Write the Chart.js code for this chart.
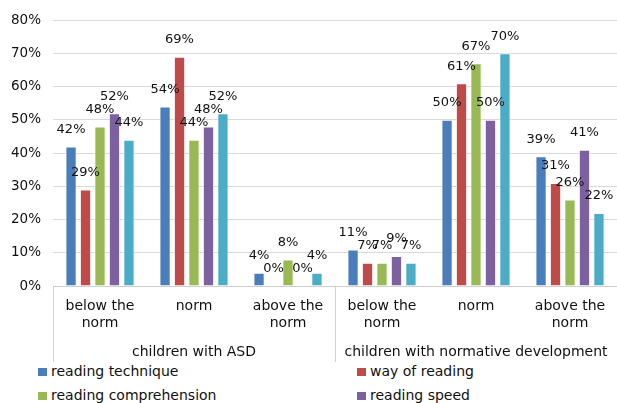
<!DOCTYPE html>
<html>
<head>
<meta charset="utf-8">
<script src="https://cdn.jsdelivr.net/npm/chart.js@4.4.0/dist/chart.umd.min.js"></script>
<style>
  html,body{margin:0;padding:0;background:#fff;width:617px;height:403px;overflow:hidden;font-family:"DejaVu Sans",sans-serif;}
  #wrap{position:relative;width:617px;height:362px;}
  #legend{position:absolute;left:0;top:363px;width:617px;height:40px;font-size:14px;color:#111;}
  .li{position:absolute;display:flex;align-items:center;white-space:nowrap;line-height:17px;}
  .sw{width:9px;height:8px;margin-right:4px;}
</style>
</head>
<body>
<div id="wrap"><canvas id="c" width="617" height="362"></canvas></div>
<div id="legend"></div>
<script>
const categories = [["below the","norm"],"norm",["above the","norm"],["below the","norm"],"norm",["above the","norm"]];
const groups = ["children with ASD","children with normative development"];
const seriesNames = ["reading technique","way of reading","reading comprehension","reading speed","total"];
const readingTechnique    = [42, 54, 4, 11, 50, 39];
const wayOfReading        = [29, 69, 0, 7, 61, 31];
const readingComprehension= [48, 44, 8, 7, 67, 26];
const readingSpeed        = [52, 48, 0, 9, 50, 41];
const fifthSeries         = [44, 52, 4, 7, 70, 22];
const yTicks = [0,10,20,30,40,50,60,70,80];
const colors = ["#4a7ebb","#be4b48","#98b954","#7d60a0","#4bacc6"];
const legendShown = [true,true,true,true,false];

const FONT = "DejaVu Sans";
const allSeries = [readingTechnique, wayOfReading, readingComprehension, readingSpeed, fifthSeries];

const labelPlugin = {
  id:'valueLabels',
  afterDatasetsDraw(chart){
    const ctx = chart.ctx;
    ctx.save();
    ctx.font = "13px " + FONT;
    ctx.fillStyle = "#111";
    ctx.textAlign = "center";
    ctx.textBaseline = "middle";
    chart.data.datasets.forEach((ds,i)=>{
      const meta = chart.getDatasetMeta(i);
      meta.data.forEach((el,j)=>{
        ctx.fillText(ds.data[j] + "%", el.x, el.y - 17);
      });
    });
    ctx.restore();
  }
};

const sepPlugin = {
  id:'separators',
  afterDraw(chart){
    const ctx = chart.ctx;
    const x = chart.scales.x;
    const ca = chart.chartArea;
    const mid = (x.getPixelForValue(2) + x.getPixelForValue(3)) / 2;
    ctx.save();
    ctx.strokeStyle = "#d0d0d0";
    ctx.lineWidth = 1;
    [ca.left, mid].forEach(px=>{
      const p = Math.round(px) + 0.5;
      ctx.beginPath();
      ctx.moveTo(p, ca.bottom);
      ctx.lineTo(p, chart.height);
      ctx.stroke();
    });
    ctx.restore();
  }
};

const chart = new Chart(document.getElementById('c'), {
  type:'bar',
  data:{
    labels: categories,
    datasets: allSeries.map((d,i)=>({
      label: seriesNames[i],
      data: d,
      backgroundColor: colors[i],
      borderColor: "rgba(255,255,255,0.6)",
      borderWidth: 1,
      categoryPercentage: 0.77,
      barPercentage: 0.78
    }))
  },
  options:{
    responsive:false,
    animation:false,
    layout:{padding:{top:12,right:0,left:0,bottom:0}},
    plugins:{legend:{display:false},tooltip:{enabled:false}},
    scales:{
      x:{
        type:'category',
        grid:{display:false},
        border:{display:true,color:"#d0d0d0"},
        ticks:{font:{family:FONT,size:14},color:"#111",padding:4,maxRotation:0,autoSkip:false},
        afterFit(s){ s.height = 50; }
      },
      x2:{
        type:'category',
        labels: groups,
        position:'bottom',
        grid:{display:false},
        border:{display:false},
        ticks:{font:{family:FONT,size:14},color:"#111",padding:0,maxRotation:0,autoSkip:false},
        afterFit(s){ s.height = 26; }
      },
      y:{
        min:0,max:80,
        afterBuildTicks(s){ s.ticks = yTicks.map(v=>({value:v})); },
        grid:{color:"#d9d9d9",drawTicks:false},
        border:{display:false},
        ticks:{font:{family:FONT,size:13.5},color:"#111",padding:12,callback:v=>v+"%"},
        afterFit(s){ s.width = 53; }
      }
    }
  },
  plugins:[labelPlugin, sepPlugin]
});

// HTML legend in two columns
const leg = document.getElementById('legend');
let k = 0;
chart.data.datasets.forEach((ds,i)=>{
  if(!legendShown[i]) return;
  const row = Math.floor(k/2), col = k%2;
  const div = document.createElement('div');
  div.className = 'li';
  div.style.left = (col===0 ? 38 : 357) + 'px';
  div.style.top = (row*24) + 'px';
  div.innerHTML = '<span class="sw" style="background:'+ds.backgroundColor+'"></span><span>'+ds.label+'</span>';
  leg.appendChild(div);
  k++;
});
</script>
</body>
</html>
